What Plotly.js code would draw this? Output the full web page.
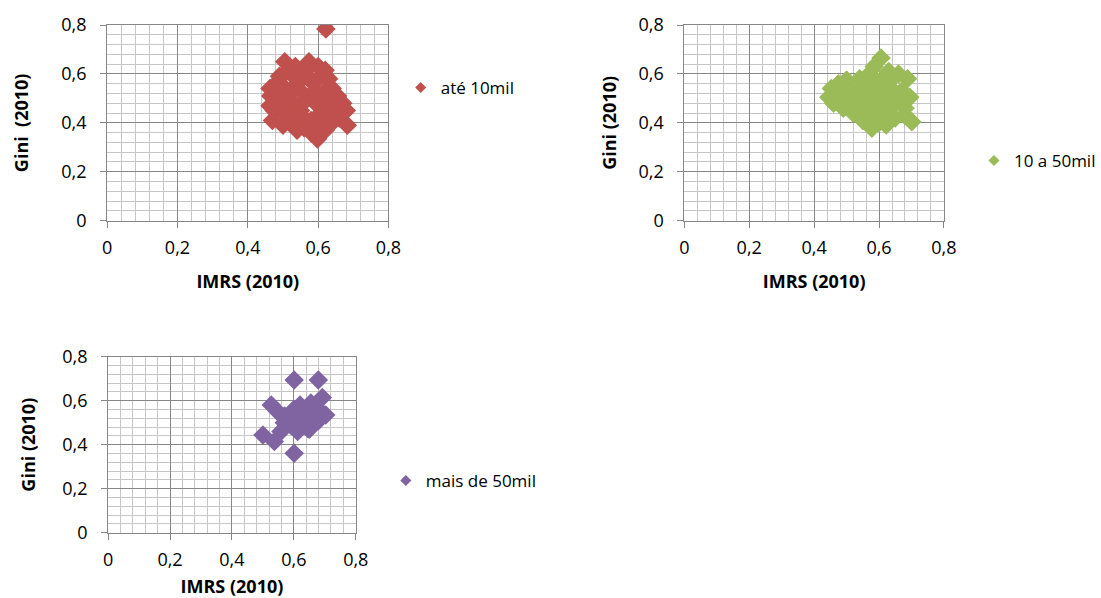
<!DOCTYPE html>
<html>
<head>
<meta charset="utf-8">
<script src="https://cdn.plot.ly/plotly-3.0.1.min.js"></script>
<style>html,body{margin:0;padding:0;background:#fff;}#chart{width:1101px;height:598px;}</style>
</head>
<body>
<div id="chart"></div>
<script>
// ---- data ----
const seriesNames = ['até 10mil', '10 a 50mil', 'mais de 50mil'];
const axisTicks = [0, 0.2, 0.4, 0.6, 0.8];

const redX = [0.505,0.535,0.574,0.600,0.620,0.622,0.630,0.640,0.655,0.670,0.680,0.683,0.660,0.640,0.620,0.598,0.580,0.560,0.540,0.520,0.500,0.470,0.475,0.463,0.465,0.463,0.480,0.490,0.510,
  0.500,0.520,0.540,0.560,0.580,0.600,0.530,0.550,0.570,0.590,0.610,0.620,0.600,0.580,0.560,0.540,0.500,0.490,0.510,0.640,0.650,0.570,0.550,0.600,0.620,0.530,0.630,0.610,0.580];
const redY = [0.650,0.630,0.650,0.630,0.615,0.784,0.580,0.540,0.510,0.480,0.450,0.390,0.420,0.400,0.370,0.334,0.360,0.380,0.370,0.400,0.390,0.410,0.450,0.470,0.510,0.540,0.560,0.590,0.610,
  0.550,0.520,0.560,0.600,0.570,0.580,0.480,0.450,0.500,0.530,0.500,0.460,0.430,0.410,0.420,0.430,0.460,0.500,0.430,0.450,0.480,0.620,0.530,0.470,0.530,0.590,0.430,0.400,0.380];

const greenX = [0.606,0.585,0.570,0.540,0.500,0.475,0.453,0.445,0.460,0.490,0.520,0.550,0.578,0.600,0.622,0.650,0.680,0.701,0.680,0.695,0.670,0.688,0.660,0.630,
  0.480,0.510,0.530,0.550,0.570,0.590,0.610,0.630,0.650,0.620,0.600,0.580,0.560,0.540,0.510,0.640,0.620,0.660,0.600,0.580,0.560,0.640,0.530];
const greenY = [0.665,0.630,0.600,0.580,0.575,0.560,0.540,0.505,0.480,0.460,0.440,0.410,0.378,0.400,0.391,0.420,0.430,0.405,0.460,0.505,0.530,0.580,0.600,0.610,
  0.520,0.540,0.510,0.550,0.520,0.560,0.580,0.550,0.520,0.500,0.470,0.440,0.460,0.480,0.490,0.470,0.440,0.490,0.520,0.490,0.500,0.580,0.450];

const purpleX = [0.601,0.679,0.601,0.500,0.537,0.527,0.548,0.692,0.703,0.633,0.590,0.612,0.644,0.665,0.655,0.569,0.558,0.620,0.680,0.660,0.600,0.640,0.580,0.670,0.630,
  0.600,0.620,0.640,0.660,0.680,0.620,0.650,0.570,0.590,0.610];
const purpleY = [0.694,0.694,0.361,0.444,0.414,0.580,0.550,0.615,0.535,0.535,0.490,0.460,0.475,0.565,0.590,0.500,0.460,0.510,0.510,0.500,0.530,0.560,0.520,0.530,0.490,
  0.560,0.580,0.530,0.540,0.560,0.480,0.470,0.530,0.540,0.500];

const colors = ['#C0504D', '#9BBB59', '#8064A2'];
const FONT = '"Open Sans", Lato, sans-serif';

function mainTrace(x, y, i, xa, ya) {
  return {type:'scatter', mode:'markers', x:x, y:y, xaxis:xa, yaxis:ya, name:seriesNames[i],
    showlegend:false, hoverinfo:'x+y',
    marker:{symbol:'diamond', size:15, color:colors[i], line:{width:0}}};
}
function legendTrace(i, xa, ya, lg) {
  return {type:'scatter', mode:'markers', x:[null], y:[null], xaxis:xa, yaxis:ya, name:seriesNames[i],
    legend:lg, showlegend:true, hoverinfo:'skip',
    marker:{symbol:'diamond', size:8.5, color:colors[i], line:{width:0}}};
}

const data = [
  mainTrace(redX, redY, 0, 'x', 'y'),
  mainTrace(greenX, greenY, 1, 'x2', 'y2'),
  mainTrace(purpleX, purpleY, 2, 'x3', 'y3'),
  legendTrace(0, 'x', 'y', 'legend'),
  legendTrace(1, 'x2', 'y2', 'legend2'),
  legendTrace(2, 'x3', 'y3', 'legend3')
];

const W = 1101, H = 598;
function ax(extra) {
  return Object.assign({
    range:[0,0.8], tickmode:'array', tickvals:axisTicks, ticktext:axisTicks.map(v => String(v).replace('.', ',')),
    showgrid:true, gridcolor:'#878787', gridwidth:1,
    minor:{dtick:0.04, tick0:0, showgrid:true, gridcolor:'#c6c6c6', gridwidth:1, ticks:''},
    zeroline:false, showline:true, linecolor:'#878787', linewidth:1, mirror:true,
    ticks:'outside', ticklen:6, tickcolor:'#878787', tickwidth:1,
    tickfont:{family:FONT, size:18, color:'#000'}, fixedrange:true
  }, extra);
}
function tt(text, st) { return {text:text, font:{family:FONT, size:18, color:'#000', weight:'bold'}, standoff:st}; }
const legFont = {family:FONT, size:17, color:'#000'};

const layout = {
  width:W, height:H, margin:{l:0, r:0, t:0, b:0}, paper_bgcolor:'#fff', plot_bgcolor:'#fff',
  separators:',.',
  xaxis: ax({domain:[108/W, 391.7/W], anchor:'y', ticklabelstandoff:5, title:tt('<b>IMRS (2010)</b>', 17)}),
  yaxis: ax({domain:[1-220.7/H, 1-25/H], anchor:'x', ticklabelstandoff:10, title:tt('<b>Gini  (2010)</b>', 27)}),
  xaxis2: ax({domain:[690/W, 951.7/W], anchor:'y2', ticklabelstandoff:5, title:tt('<b>IMRS (2010)</b>', 17)}),
  yaxis2: ax({domain:[1-220.7/H, 1-25/H], anchor:'x2', ticklabelstandoff:10, title:tt('<b>Gini (2010)</b>', 17)}),
  xaxis3: ax({domain:[109/W, 358.7/W], anchor:'y3', ticklabelstandoff:5, title:tt('<b>IMRS (2010)</b>', 11)}),
  yaxis3: ax({domain:[1-532.7/H, 1-356.7/H], anchor:'x3', ticklabelstandoff:10, title:tt('<b>Gini (2010)</b>', 21)}),
  legend: {x:404/W, y:1-88/H, xanchor:'left', yanchor:'middle', bgcolor:'rgba(0,0,0,0)', borderwidth:0, font:legFont},
  legend2:{x:982/W, y:1-161/H, xanchor:'left', yanchor:'middle', bgcolor:'rgba(0,0,0,0)', borderwidth:0, font:legFont},
  legend3:{x:389/W, y:1-481/H, xanchor:'left', yanchor:'middle', bgcolor:'rgba(0,0,0,0)', borderwidth:0, font:legFont},
  hovermode:'closest'
};

Plotly.newPlot('chart', data, layout, {displayModeBar:false});
</script>
</body>
</html>
